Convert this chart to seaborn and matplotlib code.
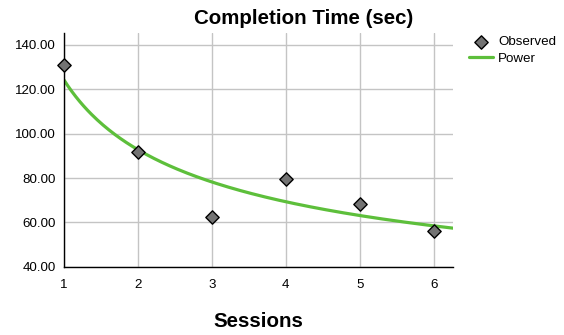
import numpy as np
import pandas as pd
import seaborn as sns
from matplotlib import pyplot as plt

# observed completion times per session
sessions = [1, 2, 3, 4, 5, 6]
completion_time = [131.0, 91.8, 62.5, 79.6, 68.4, 56.2]
y_ticks = [40, 60, 80, 100, 120, 140]

sns.set_theme(style='whitegrid')
plt.rcParams['font.family'] = ['Liberation Sans', 'DejaVu Sans']
plt.rcParams['text.color'] = 'black'

obs = pd.DataFrame({'Sessions': sessions, 'Time': completion_time})

# power trend line y = a * x^b fitted in log-log space
b, log_a = np.polyfit(np.log(obs['Sessions']), np.log(obs['Time']), 1)
x_fit = np.linspace(1, 6.26, 200)
fit = pd.DataFrame({'Sessions': x_fit, 'Time': np.exp(log_a) * x_fit ** b})

fig = plt.figure(figsize=(5.64, 3.35), dpi=100)
ax = fig.add_axes([0.1135, 0.2039, 0.6897, 0.6976])

sns.lineplot(data=fit, x='Sessions', y='Time', color='#5dbf3b', linewidth=2.3,
             label='Power', ax=ax, zorder=2)
sns.scatterplot(data=obs, x='Sessions', y='Time', marker='D', s=46,
                color='#737373', edgecolor='black', linewidth=1.0,
                label='Observed', ax=ax, zorder=3, clip_on=False)

ax.set_xlim(1, 6.26)
ax.set_ylim(40, 145.4)
ax.set_xticks(sessions)
ax.set_yticks(y_ticks)
ax.set_yticklabels([f'{v:.2f}' for v in y_ticks])
ax.tick_params(axis='both', labelsize=9.6, colors='black', length=0)
ax.tick_params(axis='x', pad=9)
ax.tick_params(axis='y', pad=6)

ax.grid(True, color='#c4c4c4', linewidth=1.0)
for side in ['top', 'right']:
    ax.spines[side].set_visible(False)
for side in ['left', 'bottom']:
    ax.spines[side].set_visible(True)
    ax.spines[side].set_color('black')
    ax.spines[side].set_linewidth(1.0)
ax.set_facecolor('white')

ax.set_ylabel('')
ax.set_xlabel('Sessions', fontsize=14.8, fontweight='bold', labelpad=15,
              color='black')
fig.text(0.539, 0.945, 'Completion Time (sec)', ha='center', va='center',
         fontsize=14.8, fontweight='bold', color='black')

handles, labels = ax.get_legend_handles_labels()
order = [labels.index('Observed'), labels.index('Power')]
ax.legend([handles[i] for i in order], [labels[i] for i in order],
          loc='upper left', bbox_to_anchor=(0.831, 0.893),
          bbox_transform=fig.transFigure, frameon=False, fontsize=9.6,
          handlelength=1.8, handletextpad=0.4, labelspacing=0.3,
          borderaxespad=0, borderpad=0)

fig.savefig('out.png', dpi=100)
